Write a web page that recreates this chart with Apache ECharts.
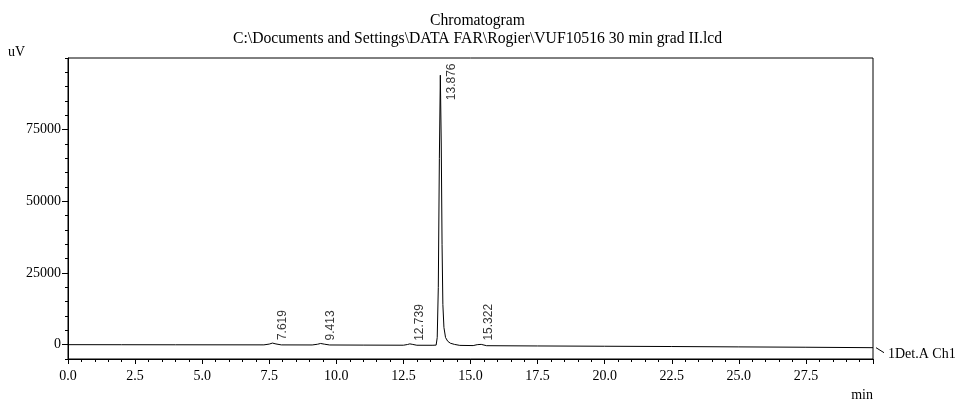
<!DOCTYPE html>
<html>
<head>
<meta charset="utf-8">
<script src="https://cdn.jsdelivr.net/npm/echarts@6/dist/echarts.min.js"></script>
<style>
html,body{margin:0;padding:0;background:#fff;}
#chart{width:955px;height:401px;}
</style>
</head>
<body>
<div id="chart"></div>
<script>
// ---- data ----
var titleLine1 = 'Chromatogram';
var titleLine2 = 'C:\\Documents and Settings\\DATA FAR\\Rogier\\VUF10516 30 min grad II.lcd';
var seriesName = '1Det.A Ch1';
var yUnit = 'uV';
var xUnit = 'min';

// retention time (min)
var times = [0, 2, 4, 6, 7.3, 7.5, 7.619, 7.75, 7.95, 9.1, 9.3, 9.413, 9.55, 9.75,
  11, 12.5, 12.65, 12.739, 12.85, 13.0, 13.6, 13.72, 13.76, 13.8, 13.84, 13.876,
  13.91, 13.94, 13.97, 14.01, 14.07, 14.15, 14.25, 14.4, 14.6, 15.1, 15.25, 15.322,
  15.4, 15.6, 17.5, 20, 22.5, 25, 27.5, 30];
// detector signal (uV)
var signal = [0, -20, -40, -60, -70, 200, 550, 250, -80, -100, 150, 420, 180, -110,
  -150, -190, 50, 280, 80, -200, -210, -150, 2500, 20000, 65000, 94000,
  70000, 35000, 14000, 6000, 2500, 1200, 500, 100, -250, -320, 0, 380,
  100, -360, -450, -550, -650, -780, -900, -1050];

// peak annotations
var peakTimes = [7.619, 9.413, 12.739, 13.876, 15.322];
var peakHeights = [550, 420, 280, 94000, 380];
var peakLabels = ['7.619', '9.413', '12.739', '13.876', '15.322'];

// axis ticks
var xTickLabels = ['0.0', '2.5', '5.0', '7.5', '10.0', '12.5', '15.0', '17.5', '20.0', '22.5', '25.0', '27.5'];
var yLabelValues = [0, 25000, 50000, 75000];

// ---- build chart ----
var serif = 'Liberation Serif, Times New Roman, serif';
var sans = 'Liberation Sans, Arial, sans-serif';

var lineData = times.map(function (t, i) { return [t, signal[i]]; });
var peakData = peakTimes.map(function (t, i) {
  var item = { value: [t, peakHeights[i]], name: peakLabels[i] };
  if (peakHeights[i] > 50000) {
    item.label = { offset: [-25, 1] };
  }
  return item;
});

var chart = echarts.init(document.getElementById('chart'), null, { renderer: 'canvas' });
var option = {
  animation: false,
  backgroundColor: '#fff',
  title: {
    text: titleLine1,
    subtext: titleLine2,
    left: 'center',
    top: 13,
    itemGap: 2,
    padding: 0,
    textStyle: { fontFamily: serif, fontSize: 15.7, fontWeight: 'normal', color: '#000' },
    subtextStyle: { fontFamily: serif, fontSize: 15.7, color: '#000' }
  },
  grid: {
    left: 68, right: 82, top: 58, bottom: 42,
    containLabel: false, outerBoundsMode: 'none',
    show: true, borderColor: '#000', borderWidth: 1, backgroundColor: 'transparent'
  },
  xAxis: {
    type: 'value', min: 0, max: 30, interval: 2.5,
    name: xUnit, nameLocation: 'end', nameGap: 0,
    nameTextStyle: { fontFamily: serif, fontSize: 14, color: '#000', align: 'right', verticalAlign: 'top', padding: [29, 0, 0, 0] },
    axisLine: { show: true, onZero: false, lineStyle: { color: '#000', width: 1 } },
    axisTick: { show: true, inside: false, length: 5, lineStyle: { color: '#000' } },
    minorTick: { show: true, splitNumber: 5, length: 3, lineStyle: { color: '#000' } },
    splitLine: { show: false },
    axisLabel: {
      fontFamily: serif, fontSize: 14, color: '#000', margin: 10,
      formatter: function (v) { var i = Math.round(v / 2.5); return i < xTickLabels.length ? xTickLabels[i] : ''; }
    }
  },
  yAxis: [{
    type: 'value', min: -5000, max: 100000, interval: 5000,
    name: yUnit, nameLocation: 'end', nameGap: 6,
    nameTextStyle: { fontFamily: serif, fontSize: 14, color: '#000', align: 'right', verticalAlign: 'middle', padding: [0, 43, 0, 0] },
    axisLine: { show: true, onZero: false, lineStyle: { color: '#000', width: 1 } },
    axisTick: { show: true, inside: false, length: 3, lineStyle: { color: '#000' } },
    splitLine: { show: false },
    axisLabel: {
      fontFamily: serif, fontSize: 14, color: '#000', margin: 7,
      customValues: yLabelValues,
      formatter: function (v) { return String(v); }
    }
  }, {
    type: 'value', min: -5000, max: 100000, position: 'left', offset: 0,
    axisLine: { show: false },
    axisTick: { show: true, inside: false, length: 6, customValues: yLabelValues, lineStyle: { color: '#000' } },
    axisLabel: { show: false },
    splitLine: { show: false }
  }],
  series: [{
    name: seriesName,
    type: 'line',
    data: lineData,
    symbol: 'none',
    lineStyle: { color: '#000', width: 1 },
    itemStyle: { color: '#000' },
    endLabel: {
      show: true, formatter: '{a}', distance: 15, offset: [0, 7],
      fontFamily: serif, fontSize: 14, color: '#000'
    }
  }, {
    type: 'scatter',
    data: peakData,
    symbolSize: 0,
    silent: true,
    label: {
      show: true, position: 'right', distance: 10, rotate: 90,
      align: 'left', verticalAlign: 'middle',
      offset: [3, 0],
      formatter: '{b}', fontFamily: sans, fontSize: 12, color: '#000'
    }
  }]
};
chart.setOption(option);

// leader from the trace end to its label
var endPt = chart.convertToPixel({ gridIndex: 0 }, lineData[lineData.length - 1]);
chart.setOption({
  graphic: [{
    type: 'line', silent: true,
    shape: { x1: endPt[0] + 3, y1: endPt[1], x2: endPt[0] + 11, y2: endPt[1] + 5 },
    style: { stroke: '#000', lineWidth: 1 }
  }]
});
</script>
</body>
</html>
